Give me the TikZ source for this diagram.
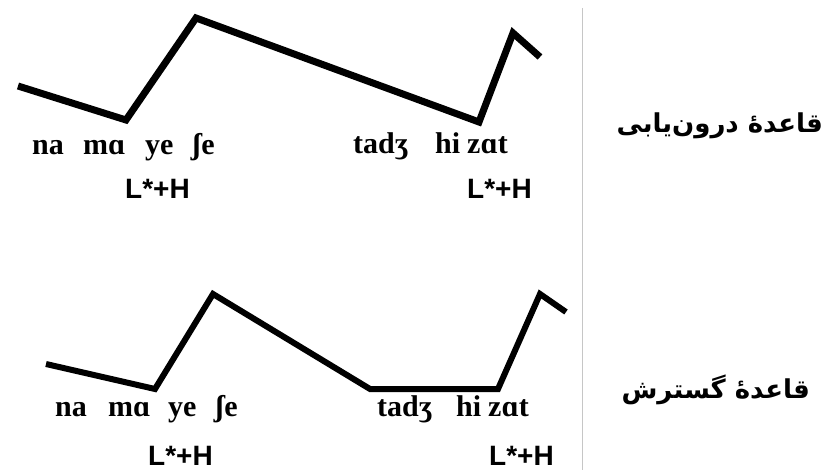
\documentclass[tikz,border=0pt]{standalone}
\usepackage{fontspec}
\setmainfont{Liberation Serif}
\setsansfont{Liberation Sans}
\newfontfamily\arabicfont[Script=Arabic]{DejaVu Sans}
\TeXXeTstate=1
\usetikzlibrary{positioning}

\begin{document}
\begin{tikzpicture}[x=1pt, y=-1pt,
    syl/.style={anchor=base west, inner sep=0pt, font=\fontsize{30}{32}\selectfont\bfseries},
    tone/.style={anchor=base west, inner sep=0pt, font=\fontsize{28}{30}\selectfont\sffamily\bfseries},
    rulelbl/.style={anchor=base east, inner sep=0pt, font=\fontsize{26}{30}\selectfont\arabicfont\bfseries},
    pitch/.style={line width=#1, line join=miter, line cap=butt}
]
\useasboundingbox[fill=white] (0,0) rectangle (830,470);

% separator
\coordinate (sepT) at (582,8);
\coordinate (sepB) at (582,470);
\draw[gray!45, line width=1pt] (sepT) -- (sepB);

% interpolation rule (top)
\coordinate (t1) at (18,86);
\coordinate (t2) at (126,120);
\coordinate (t3) at (196,18);
\coordinate (t4) at (479,122);
\coordinate (t5) at (513,33);
\coordinate (t6) at (540,57);
\draw[pitch=7pt] (t1) -- (t2) -- (t3) -- (t4) -- (t5) -- (t6);

\node[syl] (tna) at (32,155) {na};
\node[syl] (tma) at (83,155) {mɑ};
\node[syl] (tye) at (145,155) {ye};
\node[syl] (tshe) at (192,155) {ʃe};
\node[syl] (ttaj) at (353,154) {tadʒ};
\node[syl] (thi) at (435,154) {hi};
\node[syl] (tzat) at (467,154) {zɑt};
\node[tone] (tl1) at (125,199) {L*+H};
\node[tone] (tl2) at (467,199) {L*+H};
\node[rulelbl] (rtop) at (823,133) {\beginR قاعدهٔ درون‌یابی\endR};

% spreading rule (bottom)
\coordinate (b1) at (46,364);
\coordinate (b2) at (155,389);
\coordinate (b3) at (213,294);
\coordinate (b4) at (370,389);
\coordinate (b5) at (498,389);
\coordinate (b6) at (540,294);
\coordinate (b7) at (566,312);
\draw[pitch=6pt] (b1) -- (b2) -- (b3) -- (b4) -- (b5) -- (b6) -- (b7);

\node[syl] (bna) at (55,416) {na};
\node[syl] (bma) at (108,416) {mɑ};
\node[syl] (bye) at (168,416) {ye};
\node[syl] (bshe) at (215,416) {ʃe};
\node[syl] (btaj) at (377,416) {tadʒ};
\node[syl] (bhi) at (456,416) {hi};
\node[syl] (bzat) at (488,416) {zɑt};
\node[tone] (bl1) at (148,465) {L*+H};
\node[tone] (bl2) at (489,465) {L*+H};
\node[rulelbl] (rbot) at (810,398) {\beginR قاعدهٔ گسترش\endR};
\end{tikzpicture}
\end{document}
